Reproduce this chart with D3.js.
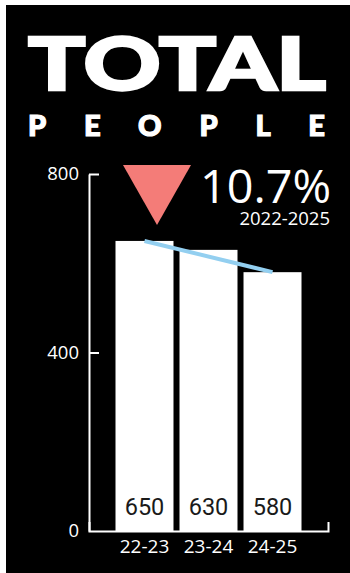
<!DOCTYPE html>
<html>
<head>
<meta charset="utf-8">
<script src="https://d3js.org/d3.v7.min.js"></script>
<style>
  body { margin: 0; background: #fff; }
  .axis text { fill: #fff; font-family: "Open Sans", sans-serif; }
  .axis path, .axis line { stroke: #fff; stroke-width: 2; }
</style>
</head>
<body>
<div id="chart"></div>
<script>
// data
var seasons = ["22-23", "23-24", "24-25"];
var people = [650, 630, 580];
var yTicks = [0, 400, 800];
var changeLabel = "10.7%";
var rangeLabel = "2022-2025";

var width = 350, height = 573;

var svg = d3.select("#chart").append("svg")
    .attr("width", width)
    .attr("height", height);

// black card
svg.append("rect")
    .attr("x", 6).attr("y", 5)
    .attr("width", width - 6).attr("height", height - 5)
    .attr("fill", "#000");

// title
svg.append("text")
    .attr("x", 28).attr("y", 90)
    .attr("textLength", 298)
    .attr("lengthAdjust", "spacingAndGlyphs")
    .style("font-family", "Lato, sans-serif")
    .style("font-weight", 900)
    .style("font-size", "73px")
    .style("fill", "#fff")
    .style("stroke", "#fff")
    .style("stroke-width", 2.5)
    .text("TOTAL");

svg.append("text")
    .attr("x", 28).attr("y", 136)
    .attr("textLength", 297)
    .attr("lengthAdjust", "spacing")
    .style("font-family", "Lato, sans-serif")
    .style("font-weight", 900)
    .style("font-size", "29px")
    .style("fill", "#fff")
    .style("stroke", "#fff")
    .style("stroke-width", 1.2)
    .text("PEOPLE");

// scales
var x = d3.scaleBand()
    .domain(seasons)
    .range([89, 328])
    .paddingInner(0.094)
    .paddingOuter(0.414);

var y = d3.scaleLinear()
    .domain([0, 800])
    .range([531, 174]);

// bars
svg.selectAll(".bar")
    .data(people)
    .enter().append("rect")
    .attr("class", "bar")
    .attr("x", function(d, i) { return x(seasons[i]); })
    .attr("y", function(d) { return y(d); })
    .attr("width", x.bandwidth())
    .attr("height", function(d) { return y(0) - y(d); })
    .attr("fill", "#fff");

// value labels
svg.selectAll(".val")
    .data(people)
    .enter().append("text")
    .attr("class", "val")
    .attr("x", function(d, i) { return x(seasons[i]) + x.bandwidth() / 2; })
    .attr("y", y(0) - 16)
    .attr("text-anchor", "middle")
    .style("font-family", "'Liberation Sans Narrow', 'Roboto', sans-serif")
    .style("font-size", "23.5px")
    .style("fill", "#1a1a1a")
    .text(function(d) { return d; });

// trend line first -> last
var ends = [0, people.length - 1];
svg.append("path")
    .datum(ends)
    .attr("d", d3.line()
        .x(function(i) { return x(seasons[i]) + x.bandwidth() / 2; })
        .y(function(i) { return y(people[i]); }))
    .attr("fill", "none")
    .attr("stroke", "#93cff0")
    .attr("stroke-width", 4);

// y axis
svg.append("g")
    .attr("class", "axis")
    .attr("transform", "translate(89,0)")
    .call(d3.axisLeft(y).tickValues(yTicks).tickSizeInner(-10).tickSizeOuter(0).tickPadding(10))
    .call(function(g) { g.selectAll("text").style("font-size", "18.5px"); })
    .call(function(g) { g.selectAll(".tick").filter(function(d) { return d === 0; }).select("line").remove(); });

// x axis
svg.append("g")
    .attr("class", "axis")
    .attr("transform", "translate(0," + y(0) + ")")
    .call(d3.axisBottom(x).tickSizeInner(0).tickSizeOuter(-9).tickPadding(9))
    .call(function(g) { g.selectAll("text").style("font-size", "19px"); });

// change marker
svg.append("path")
    .attr("d", d3.line()([[123, 165], [191, 165], [157, 225]]) + "Z")
    .attr("fill", "#f47c78");

svg.append("text")
    .attr("x", 331).attr("y", 203)
    .attr("text-anchor", "end")
    .attr("textLength", 131)
    .attr("lengthAdjust", "spacingAndGlyphs")
    .style("font-family", "'Open Sans', sans-serif")
    .style("font-size", "46px")
    .style("fill", "#fff")
    .text(changeLabel);

svg.append("text")
    .attr("x", 330).attr("y", 225)
    .attr("text-anchor", "end")
    .style("font-family", "'Open Sans', sans-serif")
    .style("font-size", "18.5px")
    .style("fill", "#fff")
    .text(rangeLabel);
</script>
</body>
</html>
